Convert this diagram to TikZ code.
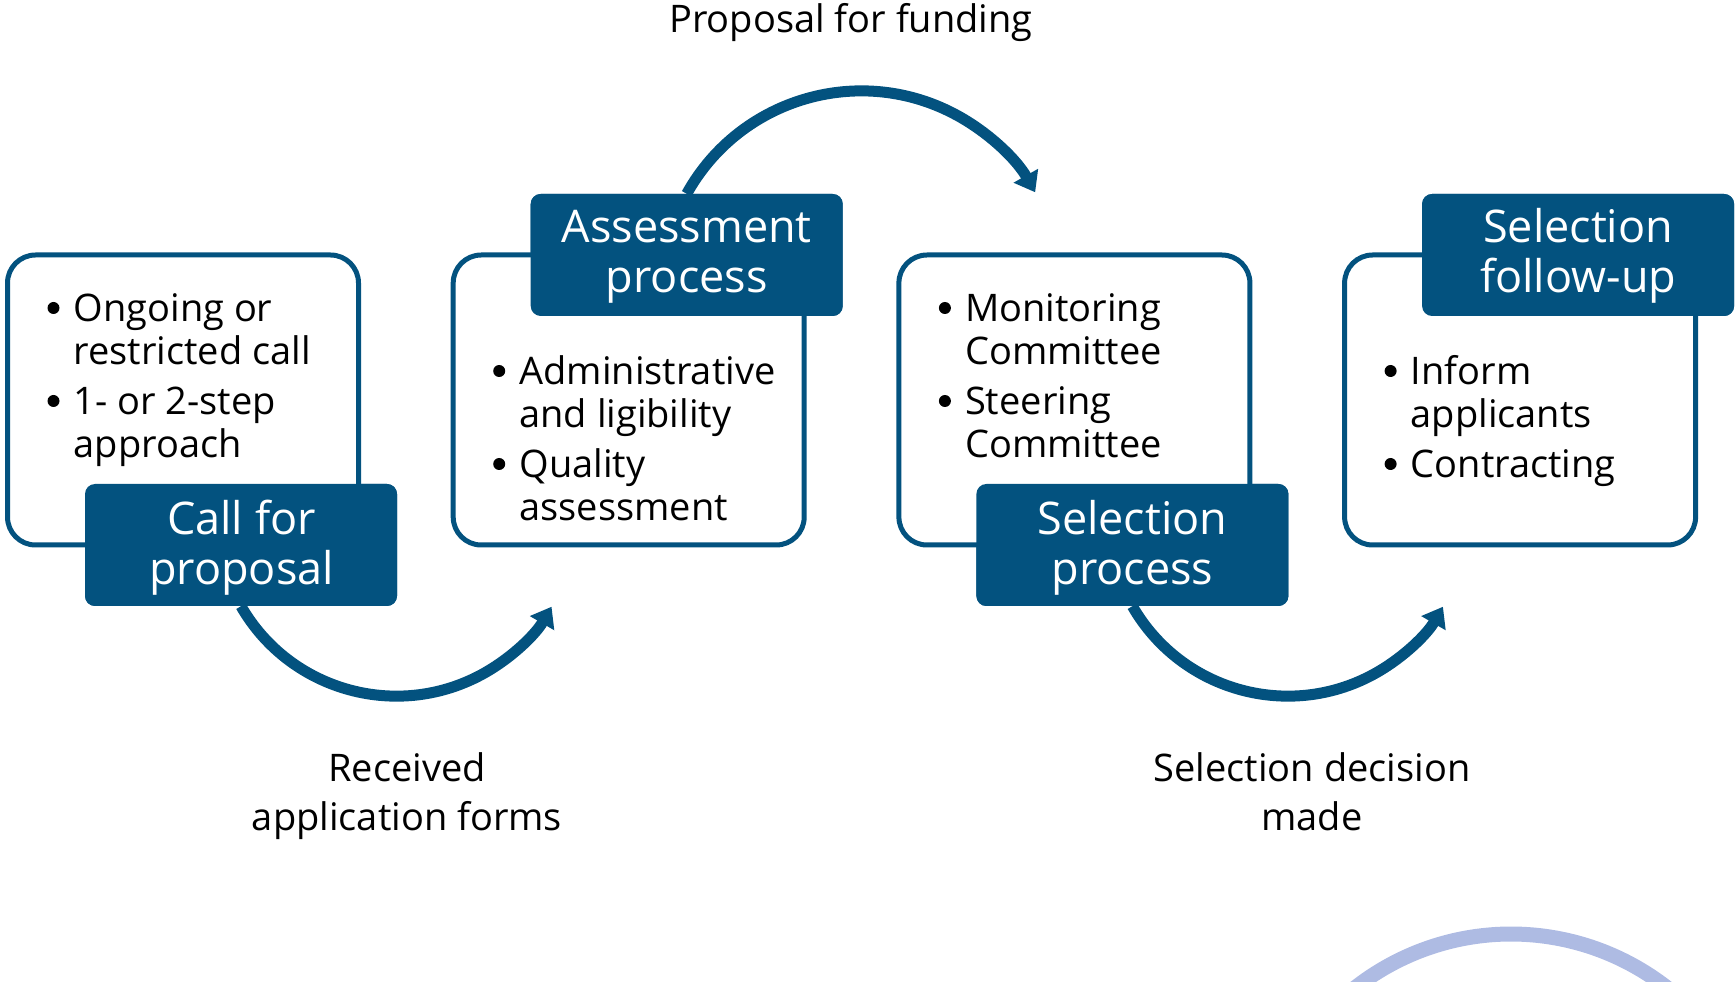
\documentclass[tikz,border=0pt]{standalone}
\usepackage{fontspec}
\setmainfont{Open Sans}
\usetikzlibrary{arrows.meta}
\definecolor{navy}{RGB}{3,82,127}
\definecolor{faint}{RGB}{174,187,227}
\begin{document}
\begin{tikzpicture}[x=1pt,y=1pt,
  outline/.style={draw=navy, line width=5pt, rounded corners=28pt, fill=white, minimum width=351pt, minimum height=290pt, inner sep=0pt},
  darkbox/.style={fill=navy, rounded corners=10pt, minimum width=312pt, minimum height=122pt, inner sep=0pt, draw=none},
  headtext/.style={text=white, font=\fontsize{45}{50}\selectfont, anchor=base, inner sep=0pt},
  itemtext/.style={text=black, font=\fontsize{38}{43}\selectfont, anchor=base west, inner sep=0pt},
  labeltext/.style={text=black, font=\fontsize{38}{43}\selectfont, anchor=base, inner sep=0pt},
  dot/.style={circle, fill=black, minimum size=12pt, inner sep=0pt, draw=none},
  flow/.style={draw=navy, line width=11pt, -{Triangle[length=19pt,width=27pt]}},
]
\useasboundingbox (0,0) rectangle (1735,989);

% faint arc at the bottom right
\begin{scope}
  \clip (0,8) rectangle (1735,989);
  \draw[faint, line width=15pt] (1303.8,-52.9) arc[start angle=145, end angle=35, radius=253pt];
\end{scope}

% dark boxes (placed first so that arcs can start from them)
\path (241,444) node[darkbox] (d1) {};
\path (686.7,734) node[darkbox] (d2) {};
\path (1132.4,444) node[darkbox] (d3) {};
\path (1578.1,734) node[darkbox] (d4) {};

% arcs
\draw[flow] (d2.north) arc[start angle=151, end angle=29.5, radius=199.7pt] coordinate (e2);
\draw[flow] (d1.south) arc[start angle=209.9, end angle=329.9, radius=179.3pt] coordinate (e1);
\draw[flow] (d3.south) arc[start angle=209.9, end angle=329.9, radius=179.3pt] coordinate (e3);

% white boxes
\node[outline] (w1) at (183,589) {};
\node[outline] (w2) at (628.7,589) {};
\node[outline] (w3) at (1074.4,589) {};
\node[outline] (w4) at (1520.1,589) {};

% dark boxes redrawn on top
\node[darkbox] (D1) at (d1) {};
\node[darkbox] (D2) at (d2) {};
\node[darkbox] (D3) at (d3) {};
\node[darkbox] (D4) at (d4) {};

% dark box texts
\node[headtext] (t1a) at (241.5,454) {Call for};
\node[headtext] (t1b) at (241.5,404) {proposal};
\node[headtext] (t2a) at (686.7,746) {Assessment};
\node[headtext] (t2b) at (686.7,696) {process};
\node[headtext] (t3a) at (1132.4,454) {Selection};
\node[headtext] (t3b) at (1132.4,404) {process};
\node[headtext] (t4a) at (1578.1,746) {Selection};
\node[headtext] (t4b) at (1578.1,696) {follow-up};

% box 1 items
\node[dot] (b1a) at (53.5,681) {};
\node[itemtext] (i1a) at (73.5,667) {Ongoing or};
\node[itemtext] (i1b) at (73.5,624) {restricted call};
\node[dot] (b1b) at (53.5,588) {};
\node[itemtext] (i1c) at (73.5,574) {1- or 2-step};
\node[itemtext] (i1d) at (73.5,531) {approach};

% box 2 items
\node[dot] (b2a) at (499.2,618) {};
\node[itemtext] (i2a) at (519.2,604) {Administrative};
\node[itemtext] (i2b) at (519.2,561) {and ligibility};
\node[dot] (b2b) at (499.2,525) {};
\node[itemtext] (i2c) at (519.2,511) {Quality};
\node[itemtext] (i2d) at (519.2,468) {assessment};

% box 3 items
\node[dot] (b3a) at (944.9,681) {};
\node[itemtext] (i3a) at (964.9,667) {Monitoring};
\node[itemtext] (i3b) at (964.9,624) {Committee};
\node[dot] (b3b) at (944.9,588) {};
\node[itemtext] (i3c) at (964.9,574) {Steering};
\node[itemtext] (i3d) at (964.9,531) {Committee};

% box 4 items
\node[dot] (b4a) at (1390.6,618) {};
\node[itemtext] (i4a) at (1410.6,604) {Inform};
\node[itemtext] (i4b) at (1410.6,561) {applicants};
\node[dot] (b4b) at (1390.6,525) {};
\node[itemtext] (i4c) at (1410.6,511) {Contracting};

% labels
\node[labeltext] (lp) at (851,956) {Proposal for funding};
\node[labeltext] (lr1) at (407,208) {Received};
\node[labeltext] (lr2) at (407,159) {application forms};
\node[labeltext] (ls1) at (1312,208) {Selection decision};
\node[labeltext] (ls2) at (1312,159) {made};
\end{tikzpicture}
\end{document}
